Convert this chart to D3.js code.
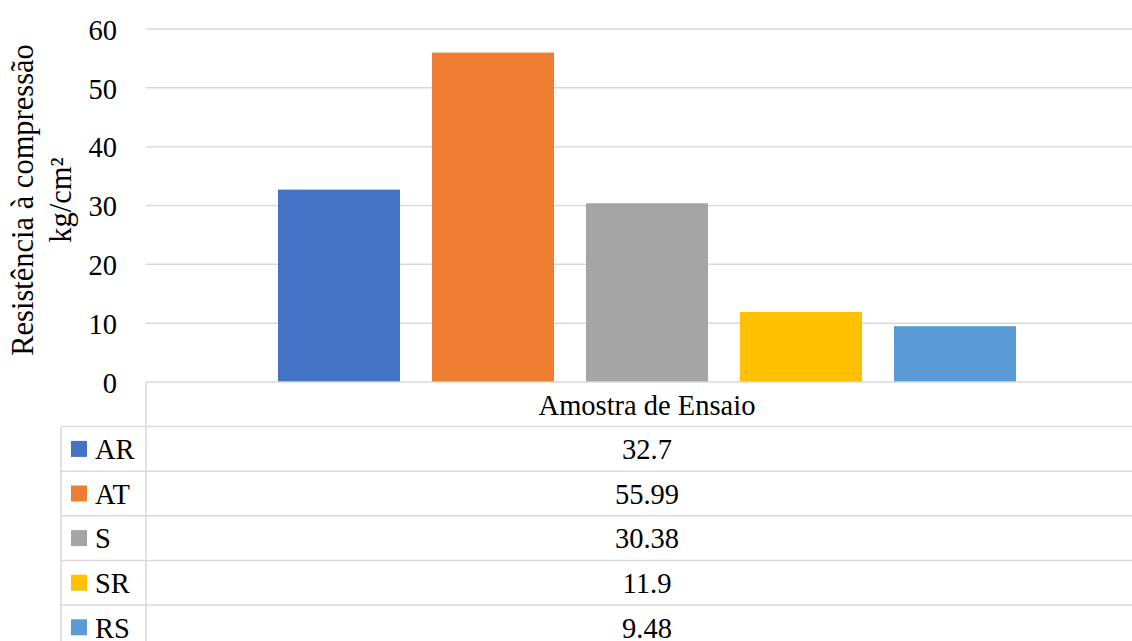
<!DOCTYPE html>
<html><head><meta charset="utf-8">
<script src="https://cdn.jsdelivr.net/npm/d3@7"></script>
<style>body{margin:0;background:#fff}svg{display:block}</style>
</head><body><svg id="c" width="1132" height="641"></svg>
<script>
const categories = ["Amostra de Ensaio"];
const seriesNames = ["AR", "AT", "S", "SR", "RS"];
const seriesValues = [32.7, 55.99, 30.38, 11.9, 9.48];
const valueLabels = ["32.7", "55.99", "30.38", "11.9", "9.48"];
const seriesColors = ["#4472C4", "#ED7D31", "#A5A5A5", "#FFC000", "#5B9BD5"];
const yTicks = [0, 10, 20, 30, 40, 50, 60];

(function () {
const svg = d3.select("#c");
const FONT = "'Liberation Serif', 'Times New Roman', 'Liberation Sans', sans-serif";
const W = 1132, H = 641;
const pLeft = 146, pRight = 1148, pTop = 29, pBottom = 382;
const grid = "#D9D9D9";
const fs = 28.5;

const y = d3.scaleLinear().domain([0, 60]).range([pBottom, pTop]);
const x0 = d3.scaleBand().domain(categories).range([pLeft, pRight]).padding(0);
const outer = 132;
const x1 = d3.scaleBand().domain(seriesNames).range([outer, x0.bandwidth() - outer]).paddingInner(32 / 154).paddingOuter(0);

svg.append("g").selectAll("line").data(yTicks.filter(d => d > 0)).join("line")
  .attr("x1", pLeft).attr("x2", pRight).attr("y1", d => y(d)).attr("y2", d => y(d))
  .attr("stroke", grid).attr("stroke-width", 1.5);

const yAxis = d3.axisLeft(y).tickValues(yTicks).tickSize(0).tickPadding(0).tickFormat(d3.format("d"));
const ga = svg.append("g").attr("transform", `translate(${117},0)`).call(yAxis);
ga.attr("font-family", FONT).attr("font-size", fs);
ga.select(".domain").remove();
ga.selectAll("text").attr("fill", "#000").attr("dy", "0.36em");

const g = svg.append("g");
categories.forEach(cat => {
  g.selectAll("rect").data(seriesNames.map((s, i) => ({s, v: seriesValues[i], c: seriesColors[i]}))).join("rect")
    .attr("x", d => x0(cat) + x1(d.s)).attr("width", x1.bandwidth())
    .attr("y", d => y(d.v)).attr("height", d => y(0) - y(d.v))
    .attr("fill", d => d.c);
});

const rowH = 44.6;
const tableLeft = 61;
const tbl = svg.append("g").attr("font-family", FONT).attr("font-size", fs);
tbl.append("line").attr("x1", pLeft).attr("x2", pRight).attr("y1", pBottom).attr("y2", pBottom).attr("stroke", grid).attr("stroke-width", 1.5);
for (let i = 1; i <= seriesNames.length; i++) {
  const yy = pBottom + i * rowH;
  tbl.append("line").attr("x1", tableLeft).attr("x2", pRight).attr("y1", yy).attr("y2", yy).attr("stroke", grid).attr("stroke-width", 1.5);
}
tbl.append("line").attr("x1", pLeft).attr("x2", pLeft).attr("y1", pBottom).attr("y2", H + 5).attr("stroke", grid).attr("stroke-width", 1.5);
tbl.append("line").attr("x1", tableLeft).attr("x2", tableLeft).attr("y1", pBottom + rowH).attr("y2", H + 5).attr("stroke", grid).attr("stroke-width", 1.5);

categories.forEach(cat => {
  const cx = x0(cat) + x0.bandwidth() / 2;
  tbl.append("text").attr("x", cx).attr("y", pBottom + rowH / 2).attr("dy", "0.36em")
    .attr("text-anchor", "middle").text(cat);
  seriesNames.forEach((s, i) => {
    const cy = pBottom + (i + 1.5) * rowH;
    tbl.append("text").attr("x", cx).attr("y", cy).attr("dy", "0.36em")
      .attr("text-anchor", "middle").text(valueLabels[i]);
  });
});
seriesNames.forEach((s, i) => {
  const cy = pBottom + (i + 1.5) * rowH;
  tbl.append("rect").attr("x", 71).attr("y", cy - 8).attr("width", 16).attr("height", 16).attr("fill", seriesColors[i]);
  tbl.append("text").attr("x", 95).attr("y", cy).attr("dy", "0.36em").text(s);
});

const t = svg.append("text").attr("transform", `translate(0,200) rotate(-90)`)
  .attr("text-anchor", "middle").attr("font-size", 30.5).attr("font-family", FONT);
t.append("tspan").attr("x", 0).attr("y", 33).text("Resistência à compressão");
t.append("tspan").attr("x", 0).attr("y", 71).text("kg/cm²");
})();
</script></body></html>
